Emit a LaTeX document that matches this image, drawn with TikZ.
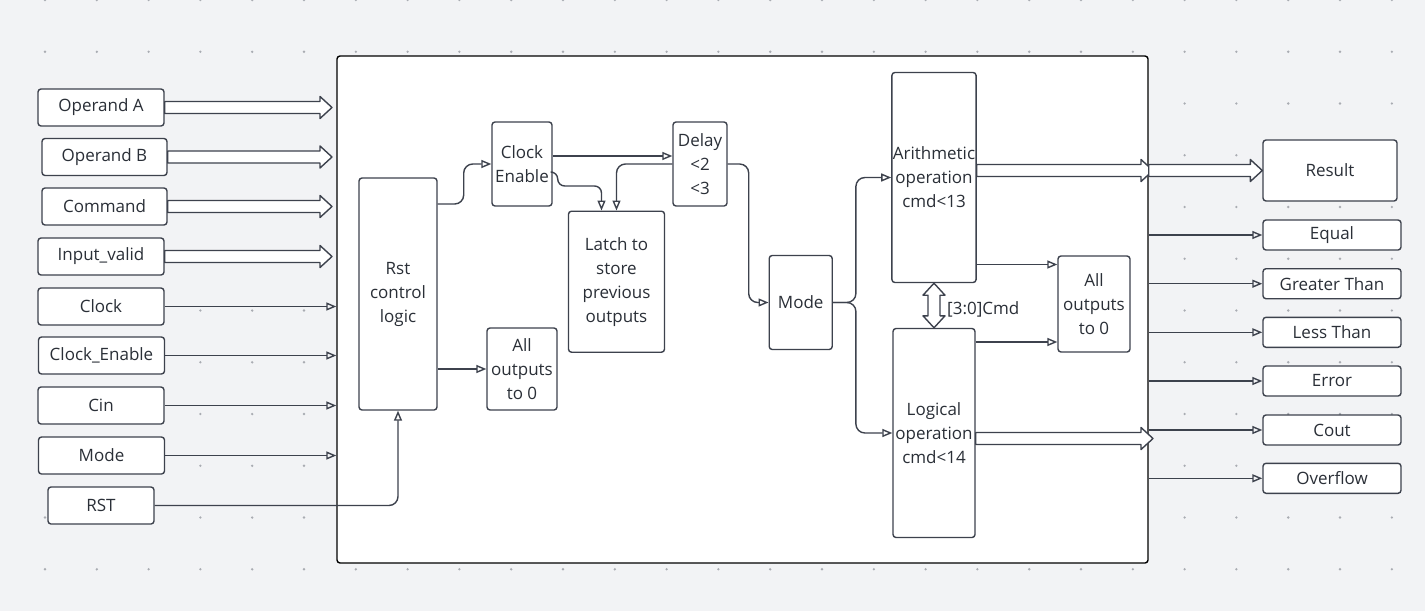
\documentclass[tikz,border=0pt]{standalone}
\usepackage{fontspec}
\setmainfont{Open Sans}
\usetikzlibrary{arrows.meta,calc,positioning}

\definecolor{bgc}{HTML}{F2F3F5}
\definecolor{dotc}{HTML}{A9ACB2}
\definecolor{linec}{HTML}{3D424D}
\definecolor{textc}{HTML}{2A2F37}

\tikzset{
  box/.style={draw=linec, fill=white, line width=1.4pt, rounded corners=3pt,
    text=textc, align=center, inner sep=1pt,
    font=\fontsize{17}{24}\selectfont},
  inbox/.style={box, minimum width=126pt, minimum height=37pt},
  outbox/.style={box, minimum width=138pt, minimum height=30pt},
  sig/.style={draw=linec, line width=1.4pt, rounded corners=9pt,
    -{Triangle[open, length=10pt, width=8pt]}},
  busline/.style={draw=linec, fill=white, line width=1.4pt, line join=round}
}

% wide bus arrow, left to right
\newcommand\busarrow[2]{%
  \draw[busline] let \p1=#1, \p2=#2 in
    (\x1,\y1+6pt) -- (\x2-12pt,\y1+6pt) -- (\x2-12pt,\y1+11pt) -- (\x2,\y1)
    -- (\x2-12pt,\y1-11pt) -- (\x2-12pt,\y1-6pt) -- (\x1,\y1-6pt) -- cycle;}

\begin{document}
\begin{tikzpicture}[x=1pt, y=-1pt]
  \useasboundingbox (0,0) rectangle (1425,611);
  \fill[bgc] (0,0) rectangle (1425,611);
  \foreach \i in {0,...,26}
    \foreach \j in {0,...,11}
      \fill[dotc] (45+51.8*\i, 51.75*\j) circle (1.3pt);

  \node[box, draw=black, minimum width=811pt, minimum height=507pt] (core) at (742.5,309.5) {};

  % inputs
  \node[inbox] (opa) at (101,107.5) {Operand A};
  \node[inbox, minimum width=125pt] (opb) at (104.5,157) {Operand B};
  \node[inbox, minimum width=125pt] (cmd) at (104.5,206.5) {Command};
  \node[inbox] (inv) at (101,256.5) {Input\_valid};
  \node[inbox] (clk) at (101,306.5) {Clock};
  \node[inbox] (clken) at (101.5,355.5) {Clock\_Enable};
  \node[inbox] (cin) at (101,405.5) {Cin};
  \node[inbox] (modein) at (101.5,455.5) {Mode};
  \node[inbox, minimum width=106pt] (rst) at (101,505.5) {RST};

  \coordinate (bus in) at (332,0);
  \coordinate (bus out) at (1153,0);

  % inner blocks
  \node[box, minimum width=78pt, minimum height=232pt] (rstl) at (398,294) {Rst\\control\\logic};
  \node[box, minimum width=60pt, minimum height=84pt] (clkenb) at (522,164) {Clock\\Enable};
  \node[box, minimum width=54pt, minimum height=84pt] (delay) at (700,164) {Delay\\<2\\<3};
  \node[box, minimum width=96pt, minimum height=141pt] (latch) at (616.5,281.7) {Latch to\\store\\previous\\outputs};
  \node[box, minimum width=70pt, minimum height=82pt] (zero1) at (522,369) {All\\outputs\\to 0};
  \node[box, minimum width=63pt, minimum height=94pt] (modeb) at (800.7,302.5) {Mode};
  \node[box, minimum width=82pt, minimum height=210pt] (arith) at (934,177.5) {Arithmetic\\operation\\cmd<13};
  \node[box, minimum width=82pt, minimum height=209pt] (logic) at (934,433) {Logical\\operation\\cmd<14};
  \node[box, minimum width=72pt, minimum height=96pt] (zero2) at (1094,304) {All\\outputs\\to 0};
  \node[anchor=west, text=textc, inner sep=0pt, font=\fontsize{17}{24}\selectfont] (cmdlbl) at (947,309) {[3:0]Cmd};

  % outputs
  \node[box, minimum width=134pt, minimum height=61pt] (result) at (1330,170.5) {Result};
  \node[outbox] (equal) at (1332,235) {Equal};
  \node[outbox] (gt) at (1332,283.7) {Greater Than};
  \node[outbox] (lt) at (1332,332.3) {Less Than};
  \node[outbox] (err) at (1332,381) {Error};
  \node[outbox] (cout) at (1332,430) {Cout};
  \node[outbox] (ovf) at (1332,478.3) {Overflow};

  % buses in
  \busarrow{(opa.east)}{(opa.east -| bus in)}
  \busarrow{(opb.east)}{(opb.east -| bus in)}
  \busarrow{(cmd.east)}{(cmd.east -| bus in)}
  \busarrow{(inv.east)}{(inv.east -| bus in)}

  \draw[sig] (clk.east) -- (clk.east -| core.west);
  \draw[sig] (clken.east) -- (clken.east -| core.west);
  \draw[sig] (cin.east) -- (cin.east -| core.west);
  \draw[sig] (modein.east) -- (modein.east -| core.west);
  \draw[sig] (rst.east) -| (rstl.south);

  % inside
  \draw[sig] ([yshift=90pt]rstl.east) -- ++(26,0) |- (clkenb.west);
  \draw[sig] (rstl.east |- zero1.west) -- (zero1.west);
  \draw[sig] ([yshift=8pt]clkenb.east) -- ([yshift=8pt]delay.west);
  \draw[sig, rounded corners=7pt] ([yshift=-8pt]clkenb.east) -- ++(5,0) -- ++(0,14) -| ([xshift=-15pt]latch.north);
  \draw[sig] (delay.west) -| (latch.north);
  \draw[sig] (delay.east) -- ++(21,0) |- (modeb.west);
  \draw[sig] (modeb.east) -- ++(23,0) |- (arith.west);
  \draw[sig] (modeb.east) -- ++(23,0) |- (logic.west);
  \draw[sig] ([yshift=-87pt]arith.east) -- ([yshift=-87pt]arith.east -| zero2.west);
  \draw[sig] ([yshift=91pt]logic.east) -- ([yshift=91pt]logic.east -| zero2.west);

  \draw[busline] let \p1=(arith.south), \p2=(logic.north) in
    (\x1,\y1) -- (\x1+11pt,\y1-12pt) -- (\x1+6pt,\y1-12pt) -- (\x1+6pt,\y2+12pt)
    -- (\x1+11pt,\y2+12pt) -- (\x1,\y2) -- (\x1-11pt,\y2+12pt) -- (\x1-6pt,\y2+12pt)
    -- (\x1-6pt,\y1-12pt) -- (\x1-11pt,\y1-12pt) -- cycle;

  % buses out
  \busarrow{(arith.east |- result.west)}{(bus out |- result.west)}
  \busarrow{(core.east |- result.west)}{(result.west)}
  \coordinate (logic tip) at (1153,438.5);
  \busarrow{(logic.east |- logic tip)}{(logic tip)}

  \draw[sig] (equal.west -| core.east) -- (equal.west);
  \draw[sig] (gt.west -| core.east) -- (gt.west);
  \draw[sig] (lt.west -| core.east) -- (lt.west);
  \draw[sig] (err.west -| core.east) -- (err.west);
  \draw[sig] (cout.west -| core.east) -- (cout.west);
  \draw[sig] (ovf.west -| core.east) -- (ovf.west);
\end{tikzpicture}
\end{document}
